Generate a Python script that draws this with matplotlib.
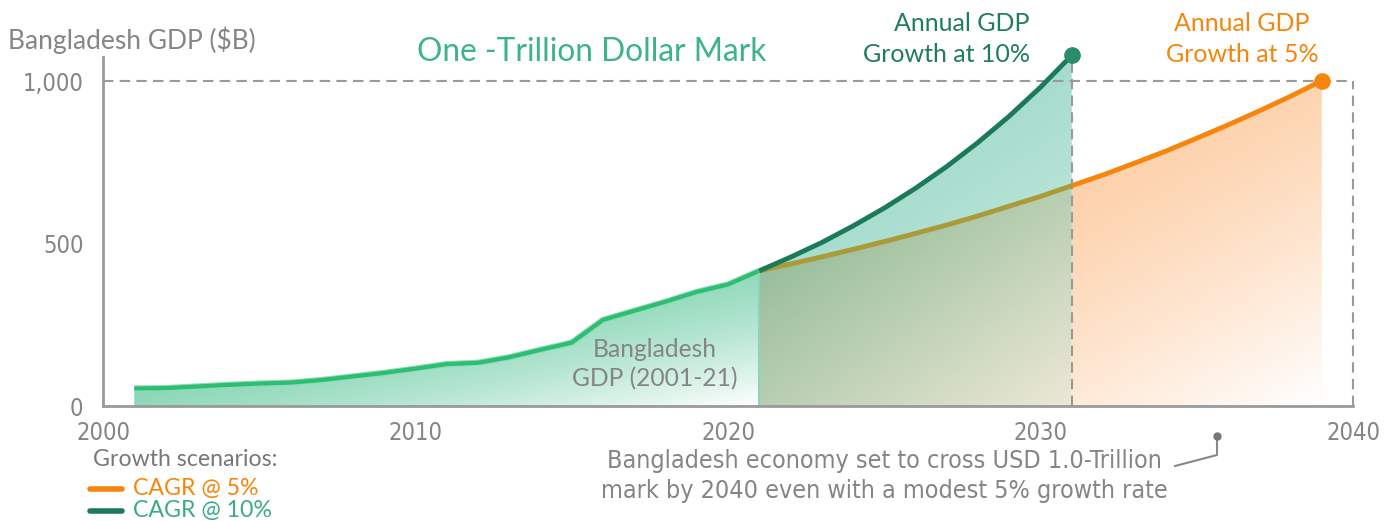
import numpy as np
import matplotlib
matplotlib.use("Agg")
import matplotlib.pyplot as plt
from matplotlib import font_manager
from matplotlib.lines import Line2D
from matplotlib.patches import PathPatch
from matplotlib.path import Path

# ---------------- data ----------------
hist_years = [2001, 2002, 2003, 2004, 2005, 2006, 2007, 2008, 2009, 2010, 2011,
              2012, 2013, 2014, 2015, 2016, 2017, 2018, 2019, 2020, 2021]
hist_gdp = [54, 55, 60, 65, 69, 72, 80, 91, 102, 115, 129,
            133, 150, 173, 195, 265, 293, 321, 351, 374, 416]

g10_years = [2021, 2022, 2023, 2024, 2025, 2026, 2027, 2028, 2029, 2030, 2031]
g10_gdp = [416, 458, 503, 554, 609, 670, 737, 811, 892, 981, 1079]

g5_years = [2021, 2022, 2023, 2024, 2025, 2026, 2027, 2028, 2029, 2030, 2031,
            2032, 2033, 2034, 2035, 2036, 2037, 2038, 2039]
g5_gdp = [416, 437, 459, 482, 506, 531, 557, 585, 615, 645, 678,
          711, 747, 784, 824, 865, 908, 953, 1001]

x_ticks = [2000, 2010, 2020, 2030, 2040]
y_ticks = [0, 500, 1000]
y_tick_labels = ["0", "500", "1,000"]
trillion_mark = 1000

# ---------------- fonts ----------------
names = {f.name for f in font_manager.fontManager.ttflist}
MAIN = ["Lato", "DejaVu Sans"]
if "Liberation Sans Narrow" in names:
    COND = dict(family=["Liberation Sans Narrow", "DejaVu Sans"])
else:
    COND = dict(family=["DejaVu Sans"], stretch="condensed")

GRAY = "#858585"
W, H = 1385, 521
fig = plt.figure(figsize=(W / 100, H / 100), dpi=100)
ax = fig.add_axes([103 / W, (H - 406) / H, 1250 / W, 349 / H])
ax.set_xlim(2000, 2040)
ax.set_ylim(0, 1074)


def px(x, y):
    return x / W, 1 - y / H


def grad_fill(xs, top, bottom, c1, c2, power=1.0, wx=0.5, z=1):
    xs = np.asarray(xs, float)
    top = np.asarray(top, float)
    bottom = np.asarray(bottom, float)
    verts = np.concatenate([np.column_stack([xs, top]),
                            np.column_stack([xs[::-1], bottom[::-1]])])
    path = Path(np.vstack([verts, verts[:1]]),
                [Path.MOVETO] + [Path.LINETO] * (len(verts) - 1) + [Path.CLOSEPOLY])
    patch = PathPatch(path, facecolor="none", edgecolor="none")
    ax.add_patch(patch)
    n = 200
    rr, cc = np.mgrid[0:n, 0:n] / (n - 1)
    t = (rr * (1 - wx) + cc * wx) ** power
    c1 = np.array(c1) / 255.0
    c2 = np.array(c2) / 255.0
    img = c1[None, None, :] * (1 - t[..., None]) + c2[None, None, :] * t[..., None]
    ext = [xs.min(), xs.max(), bottom.min(), top.max()]
    im = ax.imshow(img, extent=ext, origin="upper", aspect="auto",
                   interpolation="bilinear", zorder=z)
    im.set_clip_path(patch)


# historical fill
grad_fill(hist_years, hist_gdp, np.zeros(len(hist_years)),
          (110, 205, 165), (255, 255, 255), power=2.0, z=1)

# overlap region (2021-2031) under 5% line
n10 = len(g10_years)
grad_fill(g5_years[:n10], g5_gdp[:n10], np.zeros(n10),
          (132, 180, 140), (236, 232, 214), power=1.0, z=1)
# teal region between 5% and 10%
grad_fill(g10_years, g10_gdp, g5_gdp[:n10],
          (140, 208, 190), (192, 232, 220), power=1.0, z=1)
# orange region after 2031
grad_fill(g5_years[n10 - 1:], g5_gdp[n10 - 1:], np.zeros(len(g5_years) - n10 + 1),
          (253, 202, 158), (255, 255, 255), power=1.4, wx=0.3, z=1)

# boundary at 2021
ax.plot([hist_years[-1], hist_years[-1]], [0, hist_gdp[-1]], color="#8fd3bd",
        lw=1.5, zorder=2)

# dashed reference lines
dash = dict(color="#9a9a9a", lw=1.5, dashes=(5, 3), zorder=3)
ax.plot([2000, 2040], [trillion_mark, trillion_mark], **dash)
ax.plot([2040, 2040], [0, trillion_mark], clip_on=False, **dash)
ax.plot([g10_years[-1], g10_years[-1]], [0, g10_gdp[-1]], **dash)

# lines
ax.plot(hist_years, hist_gdp, color="#8fdcb6", lw=4.5, zorder=4,
        solid_capstyle="butt", solid_joinstyle="round")
ax.plot(hist_years, hist_gdp, color="#2dbd73", lw=3.0, zorder=5,
        solid_capstyle="butt", solid_joinstyle="round")
ax.plot(g5_years[:n10], g5_gdp[:n10], color="#aa9a38", lw=3.5, zorder=5,
        solid_capstyle="butt")
ax.plot(g5_years[n10 - 1:], g5_gdp[n10 - 1:], color="#f5850c", lw=3.5, zorder=5,
        solid_capstyle="butt")
ax.plot(g10_years, g10_gdp, color="#1b7b58", lw=3.5, zorder=6,
        solid_capstyle="butt")
ax.plot([g10_years[-1]], [g10_gdp[-1]], "o", color="#288d69", ms=11,
        zorder=7, clip_on=False)
ax.plot([g5_years[-1]], [g5_gdp[-1]], "o", color="#f5850c", ms=11,
        zorder=7, clip_on=False)

# axes styling
for s in ["top", "right"]:
    ax.spines[s].set_visible(False)
for s in ["left", "bottom"]:
    ax.spines[s].set_color("#9a9a9a")
    ax.spines[s].set_linewidth(2)
ax.set_xticks(x_ticks)
ax.set_xticklabels([str(v) for v in x_ticks], color=GRAY, fontsize=17, **COND)
ax.set_yticks(y_ticks)
ax.set_yticklabels(y_tick_labels, color=GRAY, fontsize=17, **COND)
ax.tick_params(axis="both", length=0)
ax.tick_params(axis="x", pad=11)
ax.tick_params(axis="y", pad=14)

# texts
fig.text(*px(8, 40), "Bangladesh GDP ($B)", color=GRAY, fontsize=19,
         family=MAIN, ha="left", va="center")
fig.text(*px(592, 52), "One -Trillion Dollar Mark", color="#3cb38c",
         fontsize=22.8, family=MAIN, ha="center", va="center")
fig.text(*px(1030, 39), "Annual GDP\nGrowth at 10%", color="#1e7d5b",
         fontsize=18, family=MAIN, ha="right", va="center", linespacing=1.45)
fig.text(*px(1242, 39), "Annual GDP\nGrowth at 5%", color="#f5850c",
         fontsize=18, family=MAIN, ha="center", va="center", linespacing=1.45)
fig.text(*px(655, 364), "Bangladesh\nGDP (2001-21)", color=GRAY,
         fontsize=17.7, family=MAIN, ha="center", va="center", linespacing=1.3)
fig.text(*px(884, 476), "Bangladesh economy set to cross USD 1.0-Trillion\n"
         "mark by 2040 even with a modest 5% growth rate", color=GRAY,
         fontsize=18, ha="center", va="center", linespacing=1.3, **COND)

# connector
fig.add_artist(Line2D([1217 / W, 1217 / W, 1175 / W],
                      [1 - 436 / H, 1 - 455 / H, 1 - 466 / H],
                      color="#888888", lw=1.5))
fig.add_artist(Line2D([1217 / W], [1 - 436 / H], marker="o", color="#777777",
                      ms=5))

# legend
fig.text(*px(93, 460), "Growth scenarios:", color="#777777", fontsize=16.7,
         family=MAIN, ha="left", va="center")
fig.add_artist(Line2D([90 / W, 122 / W], [1 - 489 / H] * 2, color="#f5850c",
                      lw=4, solid_capstyle="round"))
fig.text(*px(133, 489), "CAGR @ 5%", color="#f5850c", fontsize=16.7,
         family=MAIN, ha="left", va="center")
fig.add_artist(Line2D([90 / W, 122 / W], [1 - 511 / H] * 2, color="#1b7b58",
                      lw=4, solid_capstyle="round"))
fig.text(*px(133, 511), "CAGR @ 10%", color="#3aaa88", fontsize=16.7,
         family=MAIN, ha="left", va="center")

fig.savefig("out.png", dpi=100)
